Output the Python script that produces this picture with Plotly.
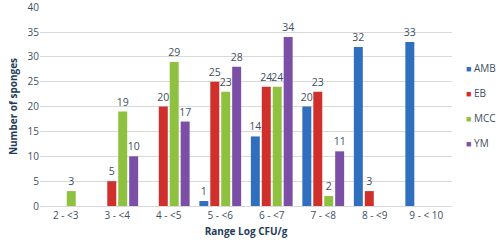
import plotly.graph_objects as go

categories = ["2 - <3", "3 - <4", "4 - <5", "5 - <6", "6 - <7", "7 - <8", "8 - <9", "9 - < 10"]
AMB = [0, 0, 0, 1, 14, 20, 32, 33]
EB = [0, 5, 20, 25, 24, 23, 3, 0]
MCC = [3, 19, 29, 23, 24, 2, 0, 0]
YM = [0, 10, 17, 28, 34, 11, 0, 0]
y_ticks = [0, 5, 10, 15, 20, 25, 30, 35, 40]

series = [("AMB", AMB, "#2F6FBD"), ("EB", EB, "#CF302C"), ("MCC", MCC, "#8EC13F"), ("YM", YM, "#7B4FA6")]

fig = go.Figure()
for name, vals, col in series:
    fig.add_trace(go.Bar(
        x=categories, y=vals, name=name,
        marker=dict(color=col, line=dict(width=0)),
        text=[str(v) if v > 0 else "" for v in vals],
        textposition="outside", cliponaxis=False, constraintext="none",
        textfont=dict(size=10.5, color="#404F5F"),
        showlegend=False,
    ))

# legend drawn as text annotations
for i, (name, vals, col) in enumerate(series):
    fig.add_annotation(
        xref="paper", yref="paper", x=1.03, y=(206 - 68 - 25 * i) / 199,
        xanchor="left", yanchor="middle", showarrow=False,
        text=f"<span style='color:{col};font-size:9px'>■</span> {name}",
        font=dict(size=10, color="#404F5F"),
    )

font = "Open Sans, sans-serif"
fig.update_layout(
    width=500, height=247,
    margin=dict(l=40, r=48, t=7, b=41),
    paper_bgcolor="white", plot_bgcolor="white",
    barmode="group", bargap=0.15, bargroupgap=0.18,
    font=dict(family=font, size=10, color="#404F5F"),
    showlegend=False,
)
fig.update_yaxes(range=[0, 40.05], tickvals=y_ticks, tickmode="array", showgrid=True, gridcolor="#D9D9D9",
                 zeroline=False, showline=False, ticks="", tickfont=dict(size=10), automargin=False,
                 ticklabeloverflow="allow",
                 title=dict(text="<b>Number of sponges</b>", font=dict(size=10, color="#1F3B5A"), standoff=8))
fig.update_xaxes(showline=True, linecolor="#D9D9D9", ticks="", tickfont=dict(size=10), automargin=False,
                 title=dict(text="<b>Range Log CFU/g</b>", font=dict(size=10, color="#1F3B5A"), standoff=6))
fig.write_html("out.html", config={"displayModeBar": False})

with open("out.html", encoding="utf-8") as f:
    html = f.read()
html = html.replace("<head>", "<head><style>html,body{margin:0;padding:0;overflow:hidden}</style>", 1)
with open("out.html", "w", encoding="utf-8") as f:
    f.write(html)
